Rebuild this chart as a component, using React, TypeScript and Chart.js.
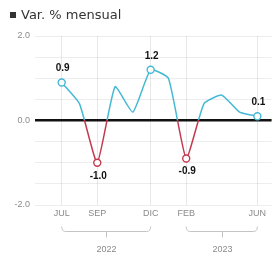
import React, { useEffect, useRef } from "react";
import { Chart, registerables } from "chart.js";
Chart.register(...registerables);

const months = ["JUL", "AGO", "SEP", "OCT", "NOV", "DIC", "ENE", "FEB", "MAR", "ABR", "MAY", "JUN"];
const values = [0.9, 0.4, -1.0, 0.8, 0.2, 1.2, 1.0, -0.9, 0.4, 0.6, 0.2, 0.1];
const tickMonths = ["JUL", "SEP", "DIC", "FEB", "JUN"];
const highlighted = ["JUL", "SEP", "DIC", "FEB", "JUN"];
const yTickLabels = [2, 0, -2];
const years = ["2022", "2023"];
const yearSpans = [["JUL", "DIC"], ["FEB", "JUN"]];
const title = "Var. % mensual";

const TEAL = "#45b9d3";
const RED = "#c23a50";
const FONT = "'Liberation Sans Narrow', 'Liberation Sans', Arial, sans-serif";

export default function App() {
  const ref = useRef<HTMLCanvasElement>(null);
  useEffect(() => {
    document.body.style.margin = "0";
    const canvas = ref.current!;
    const hi = highlighted.map((m) => months.indexOf(m));
    const decor = {
      id: "decor",
      afterDatasetsDraw(chart: any) {
        const ctx = chart.ctx;
        const xs = chart.scales.x;
        const ys = chart.scales.y;
        ctx.save();
        ctx.font = `bold 10px ${FONT}`;
        ctx.fillStyle = "#111";
        ctx.textAlign = "center";
        ctx.textBaseline = "middle";
        hi.forEach((i) => {
          const v = values[i];
          const px = xs.getPixelForValue(i);
          const py = ys.getPixelForValue(v);
          ctx.fillText(v.toFixed(1), px + 1, v >= 0 ? py - 14 : py + 13);
        });
        ctx.restore();
      },
      afterDraw(chart: any) {
        const ctx = chart.ctx;
        const xs = chart.scales.x;
        ctx.save();
        ctx.fillStyle = "#333";
        ctx.fillRect(10, 12, 6, 6);
        ctx.font = "13px 'DejaVu Sans', sans-serif";
        ctx.textBaseline = "middle";
        ctx.textAlign = "left";
        ctx.fillText(title, 21, 15.5);
        ctx.strokeStyle = "#c4c4c4";
        ctx.lineWidth = 1;
        ctx.fillStyle = "#8a8a8a";
        ctx.font = `9px ${FONT}`;
        ctx.textAlign = "center";
        yearSpans.forEach((span, k) => {
          const x1 = xs.getPixelForValue(months.indexOf(span[0]));
          const x2 = xs.getPixelForValue(months.indexOf(span[1]));
          const y = 231.5;
          const mid = Math.round((x1 + x2) / 2) + 0.5;
          ctx.beginPath();
          ctx.moveTo(x1, y - 5);
          ctx.quadraticCurveTo(x1, y, x1 + 4, y);
          ctx.lineTo(x2 - 4, y);
          ctx.quadraticCurveTo(x2, y, x2, y - 5);
          ctx.moveTo(mid, y);
          ctx.lineTo(mid, y + 6);
          ctx.stroke();
          ctx.fillText(years[k], mid, 250);
        });
        ctx.restore();
      },
    };
    const chart = new Chart(canvas, {
      type: "line",
      data: {
        datasets: [
          {
            data: values.map((v, i) => ({ x: i, y: v })),
            borderWidth: 1.5,
            tension: 0.15,
            borderColor: (c: any) => {
              const ch = c.chart;
              const area = ch.chartArea;
              if (!area) return TEAL;
              const y0 = ch.scales.y.getPixelForValue(0);
              const g = ch.ctx.createLinearGradient(0, area.top, 0, area.bottom);
              const s = Math.min(1, Math.max(0, (y0 - area.top) / (area.bottom - area.top)));
              g.addColorStop(0, TEAL);
              g.addColorStop(s, TEAL);
              g.addColorStop(s, RED);
              g.addColorStop(1, RED);
              return g;
            },
            pointRadius: (c: any) => (hi.includes(c.dataIndex) ? 3.5 : 0),
            pointBackgroundColor: "#ffffff",
            pointBorderColor: (c: any) => (values[c.dataIndex] < 0 ? RED : TEAL),
            pointBorderWidth: 1.4,
          } as any,
        ],
      },
      options: {
        animation: false,
        responsive: false,
        layout: { padding: { top: 36, left: 0, right: 0, bottom: 0 } },
        plugins: { legend: { display: false }, tooltip: { enabled: false } },
        scales: {
          x: {
            type: "linear",
            min: -1.5,
            max: 11.8,
            afterBuildTicks: (s: any) => {
              s.ticks = tickMonths.map((m) => ({ value: months.indexOf(m) }));
            },
            afterFit: (s: any) => {
              s.height = 51;
            },
            ticks: {
              autoSkip: false,
              maxRotation: 0,
              padding: 3,
              color: "#8a8a8a",
              font: { size: 9, family: FONT },
              callback: (v: any) => months[v as number] ?? "",
            },
            grid: { color: "rgba(0,0,0,0.09)", lineWidth: 1, drawTicks: false },
            border: { display: false },
          },
          y: {
            min: -2,
            max: 2,
            afterFit: (s: any) => {
              s.width = 35;
            },
            ticks: {
              stepSize: 0.5,
              padding: 5,
              color: "#8a8a8a",
              font: { size: 9, family: FONT },
              callback: (v: any) => (yTickLabels.includes(v as number) ? (v as number).toFixed(1) : ""),
            },
            grid: {
              drawTicks: false,
              color: (c: any) => (c.tick && c.tick.value === 0 ? "#111" : "rgba(0,0,0,0.07)"),
              lineWidth: (c: any) => (c.tick && c.tick.value === 0 ? 2.5 : 1),
            },
            border: { display: false },
          },
        },
      } as any,
      plugins: [decor],
    });
    return () => chart.destroy();
  }, []);
  return <canvas ref={ref} width={277} height={256} style={{ display: "block" }} />;
}
